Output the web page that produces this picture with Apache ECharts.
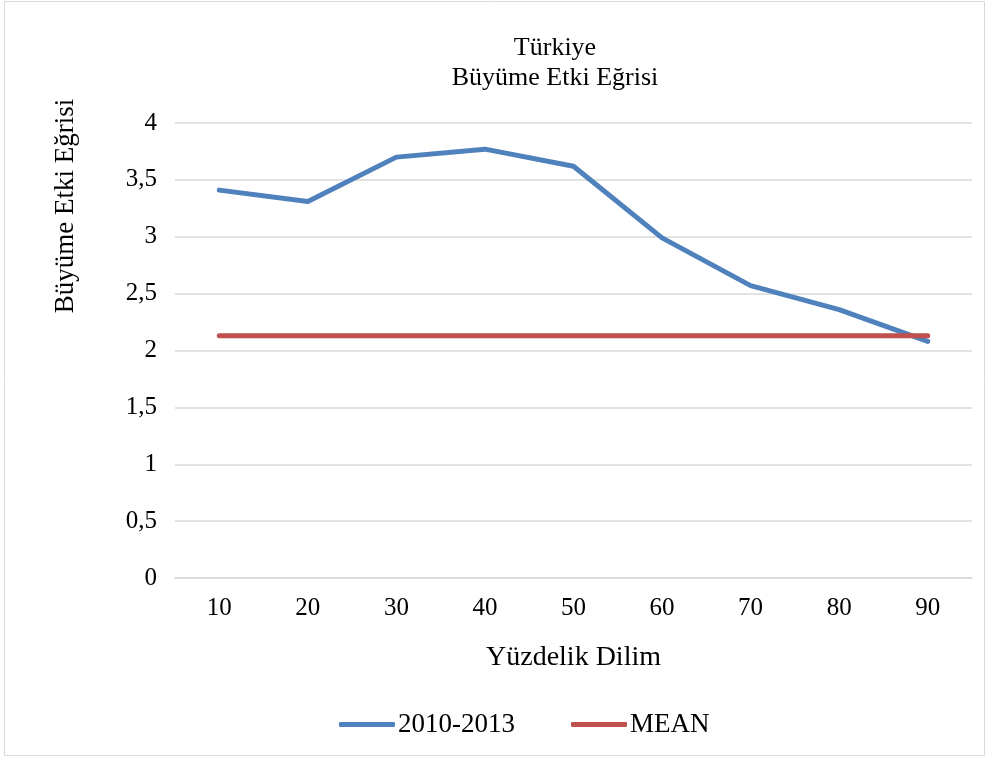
<!DOCTYPE html>
<html><head><meta charset="utf-8">
<script src="https://cdn.jsdelivr.net/npm/echarts@6/dist/echarts.min.js"></script>
<style>html,body{margin:0;padding:0;background:#fff}#c{width:987px;height:758px}</style>
</head><body><div id="c"></div>
<script>
const categories = ['10','20','30','40','50','60','70','80','90'];
const series2010 = [3.41, 3.31, 3.70, 3.77, 3.62, 2.99, 2.57, 2.36, 2.08];
const seriesMean = [2.13, 2.13, 2.13, 2.13, 2.13, 2.13, 2.13, 2.13, 2.13];
const seriesNames = ['2010-2013', 'MEAN'];
const titleText = 'Türkiye\nBüyüme Etki Eğrisi';
const yAxisName = 'Büyüme Etki Eğrisi';
const xAxisName = 'Yüzdelik Dilim';

const font = '"Liberation Serif", "Times New Roman", serif';
const chart = echarts.init(document.getElementById('c'));
chart.setOption({
  animation: false,
  textStyle: { fontFamily: font },
  title: {
    text: titleText, left: 550, top: 28, textAlign: 'center',
    textStyle: { fontFamily: font, fontSize: 26, fontWeight: 'normal', color: '#000', lineHeight: 30 }
  },
  graphic: [
    { type: 'rect', shape: { x: 4.5, y: 1.5, width: 980, height: 754 }, style: { fill: 'none', stroke: '#d9d9d9', lineWidth: 1 }, silent: true },
    { type: 'text', x: 66, y: 206, rotation: Math.PI / 2,
      style: { text: yAxisName, font: '27px ' + font, fill: '#000', textAlign: 'center', textVerticalAlign: 'middle' } }
  ],
  legend: {
    data: seriesNames, bottom: 15, left: 334,
    icon: 'roundRect', itemWidth: 56, itemHeight: 5, itemGap: 56,
    textStyle: { fontFamily: font, fontSize: 27, color: '#000', padding: [0, 0, 0, -2] }
  },
  grid: { left: 175, right: 15, top: 123, bottom: 180 },
  xAxis: {
    type: 'category', data: categories, boundaryGap: true,
    name: xAxisName, nameLocation: 'middle', nameGap: 66,
    nameTextStyle: { fontFamily: font, fontSize: 28, color: '#000' },
    axisLine: { show: true, lineStyle: { color: '#d9d9d9', width: 1.5 } },
    axisTick: { show: false },
    axisLabel: { fontFamily: font, fontSize: 25, color: '#000', margin: 18 }
  },
  yAxis: {
    type: 'value', min: 0, max: 4, interval: 0.5,
    axisLine: { show: false }, axisTick: { show: false },
    splitLine: { lineStyle: { color: '#d9d9d9', width: 1.5 } },
    axisLabel: { fontFamily: font, fontSize: 25, color: '#000', margin: 18,
      formatter: v => String(v).replace('.', ',') }
  },
  series: [
    { name: seriesNames[0], type: 'line', data: series2010, showSymbol: false, symbol: 'none',
      lineStyle: { color: '#4f81bd', width: 5, cap: 'round', join: 'round' }, itemStyle: { color: '#4f81bd' } },
    { name: seriesNames[1], type: 'line', data: seriesMean, showSymbol: false, symbol: 'none',
      lineStyle: { color: '#c0504d', width: 5, cap: 'round' }, itemStyle: { color: '#c0504d' } }
  ]
});
</script></body></html>
